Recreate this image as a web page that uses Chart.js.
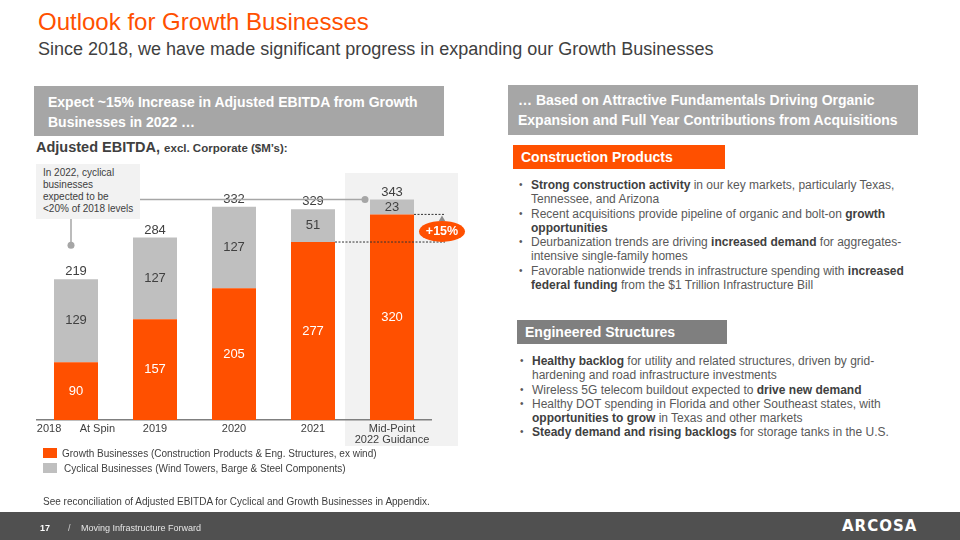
<!DOCTYPE html>
<html>
<head>
<meta charset="utf-8">
<script src="https://cdn.jsdelivr.net/npm/chart.js@4"></script>
<style>
  body { margin: 0; width: 960px; height: 540px; position: relative; overflow: hidden; background: #fff;
         font-family: "Liberation Sans", Arial, sans-serif; color: #404040; }
  .abs { position: absolute; white-space: nowrap; }
  .title { left: 38px; top: 10px; font-size: 24px; line-height: 24px; color: #FF5000; }
  .subtitle { left: 38px; top: 40px; font-size: 18px; line-height: 18px; color: #404040; }
  .greybox { background: #A6A6A6; color: #fff; font-weight: bold; font-size: 14px; line-height: 20px; box-sizing: border-box; }
  .tag { color: #fff; font-weight: bold; font-size: 14px; line-height: 24px; height: 24px; box-sizing: border-box; padding-left: 8px; }
  .bul { font-size: 12px; line-height: 14.3px; color: #595959; }
  .bul div { position: relative; padding-left: 12px; }
  .bul b { color: #404040; }
  .bul .dot { position: absolute; left: 0; top: 0; font-size: 10px; }
  .small { font-size: 10px; line-height: 12px; color: #404040; }
  #chartBox { position: absolute; left: 0; top: 150px; width: 480px; height: 300px; }
</style>
</head>
<body>
<div class="abs title">Outlook for Growth Businesses</div>
<div class="abs subtitle">Since 2018, we have made significant progress in expanding our Growth Businesses</div>

<div class="abs greybox" style="left:34px;top:86px;width:410px;height:50px;padding:6px 0 0 14px;">Expect ~15% Increase in Adjusted EBITDA from Growth<br>Businesses in 2022 …</div>
<div class="abs greybox" style="left:508px;top:85px;width:410px;height:50px;padding:5px 0 0 10px;">… Based on Attractive Fundamentals Driving Organic<br>Expansion and Full Year Contributions from Acquisitions</div>

<div class="abs" style="left:36px;top:140px;font-size:14.5px;line-height:14px;font-weight:bold;color:#404040;">Adjusted EBITDA, <span style="font-size:11.5px;">excl. Corporate ($M’s):</span></div>

<div id="chartBox"><canvas id="ebitdaChart" width="480" height="300"></canvas></div>

<div class="abs small" style="left:36px;top:164px;width:104px;height:55px;background:#F2F2F2;padding:3px 0 0 7px;box-sizing:border-box;line-height:12px;font-size:10px;">In 2022, cyclical<br>businesses<br>expected to be<br>&lt;20% of 2018 levels</div>

<div class="abs" style="left:43px;top:448px;width:14px;height:10px;background:#FF5000;"></div>
<div class="abs small" style="left:62px;top:448px;">Growth Businesses (Construction Products &amp; Eng. Structures, ex wind)</div>
<div class="abs" style="left:43px;top:463px;width:14px;height:10px;background:#BFBFBF;"></div>
<div class="abs small" style="left:64px;top:463px;">Cyclical Businesses (Wind Towers, Barge &amp; Steel Components)</div>

<div class="abs small" style="left:43px;top:496px;">See reconciliation of Adjusted EBITDA for Cyclical and Growth Businesses in Appendix.</div>

<div class="abs tag" style="left:513px;top:145px;width:212px;background:#FF5000;">Construction Products</div>
<div class="abs bul" style="left:519px;top:178px;">
  <div><span class="dot">•</span><b>Strong construction activity</b> in our key markets, particularly Texas,<br>Tennessee, and Arizona</div>
  <div><span class="dot">•</span>Recent acquisitions provide pipeline of organic and bolt-on <b>growth<br>opportunities</b></div>
  <div><span class="dot">•</span>Deurbanization trends are driving <b>increased demand</b> for aggregates-<br>intensive single-family homes</div>
  <div><span class="dot">•</span>Favorable nationwide trends in infrastructure spending with <b>increased<br>federal funding</b> from the $1 Trillion Infrastructure Bill</div>
</div>

<div class="abs tag" style="left:517px;top:320px;width:210px;background:#7F7F7F;">Engineered Structures</div>
<div class="abs bul" style="left:520px;top:354px;">
  <div><span class="dot">•</span><b>Healthy backlog</b> for utility and related structures, driven by grid-<br>hardening and road infrastructure investments</div>
  <div><span class="dot">•</span>Wireless 5G telecom buildout expected to <b>drive new demand</b></div>
  <div><span class="dot">•</span>Healthy DOT spending in Florida and other Southeast states, with<br><b>opportunities to grow</b> in Texas and other markets</div>
  <div><span class="dot">•</span><b>Steady demand and rising backlogs</b> for storage tanks in the U.S.</div>
</div>

<div class="abs" style="left:0;top:512px;width:960px;height:28px;background:#505050;"></div>
<div class="abs" style="left:40px;top:522px;font-size:9px;line-height:12px;font-weight:bold;color:#fff;">17</div>
<div class="abs" style="left:68px;top:522px;font-size:9px;line-height:12px;color:#d0d0d0;">/</div>
<div class="abs" style="left:81px;top:522px;font-size:9px;line-height:12px;color:#e6e6e6;">Moving Infrastructure Forward</div>
<div class="abs" style="left:842px;top:517px;font-family:'DejaVu Sans',sans-serif;font-size:15px;line-height:18px;font-weight:bold;letter-spacing:1px;color:#fff;">ARCOSA</div>

<script>
const ORANGE = "#FF5000";
const GREY = "#BFBFBF";
const TEXT = "#404040";

const categories = ["2018\u00a0\u00a0\u00a0\u00a0\u00a0\u00a0At Spin", "2019", "2020", "2021", ["Mid-Point", "2022 Guidance"]];
const growthValues = [90, 157, 205, 277, 320];
const cyclicalValues = [129, 127, 127, 51, 23];
const totalLabels = [219, 284, 332, 329, 343];
const growthLabel = "+15%";

const slideMarks = {
  id: "slideMarks",
  beforeDraw(chart) {
    const { ctx, chartArea } = chart;
    const cx = chart.scales.x.getPixelForValue(categories.length - 1);
    ctx.save();
    ctx.fillStyle = "#F2F2F2";
    ctx.fillRect(cx - 47, chartArea.top + 10, 113, chartArea.bottom - chartArea.top + 16);
    ctx.restore();
  },
  afterDatasetsDraw(chart) {
    const { ctx } = chart;
    const y = chart.scales.y;
    const growth = chart.getDatasetMeta(0).data;
    const cyc = chart.getDatasetMeta(1).data;

    ctx.save();
    ctx.font = "13px 'Liberation Sans', Arial, sans-serif";
    ctx.textAlign = "center";
    growth.forEach((bar, i) => {
      ctx.fillStyle = "#FFFFFF";
      ctx.textBaseline = "middle";
      ctx.fillText(growthValues[i], bar.x, (bar.y + bar.base) / 2);
    });
    cyc.forEach((bar, i) => {
      ctx.fillStyle = TEXT;
      ctx.textBaseline = "middle";
      ctx.fillText(cyclicalValues[i], bar.x, (bar.y + bar.base) / 2);
      ctx.textBaseline = "bottom";
      ctx.fillText(totalLabels[i], bar.x, bar.y - 1);
    });

    // callout lines from the note box
    const last = growth[growth.length - 1];
    const first = growth[0];
    const topLast = y.getPixelForValue(totalLabels[4]);
    ctx.strokeStyle = "#A6A6A6";
    ctx.fillStyle = "#A6A6A6";
    ctx.lineWidth = 1.5;
    ctx.beginPath();
    ctx.moveTo(140, topLast);
    ctx.lineTo(last.x - 27, topLast);
    ctx.moveTo(first.x - 5, y.getPixelForValue(313));
    ctx.lineTo(first.x - 5, y.getPixelForValue(272));
    ctx.stroke();
    ctx.beginPath();
    ctx.arc(last.x - 27, topLast, 3.5, 0, Math.PI * 2);
    ctx.fill();
    ctx.beginPath();
    ctx.arc(first.x - 5, y.getPixelForValue(272), 3.5, 0, Math.PI * 2);
    ctx.fill();

    // dotted growth comparison lines
    const prev = growth[3];
    ctx.strokeStyle = "#333333";
    ctx.lineWidth = 1;
    ctx.setLineDash([2, 1.5]);
    ctx.beginPath();
    ctx.moveTo(prev.x + prev.width / 2, prev.y);
    ctx.lineTo(last.x + 53, prev.y);
    ctx.moveTo(last.x + last.width / 2, last.y);
    ctx.lineTo(last.x + 53, last.y);
    ctx.stroke();
    ctx.setLineDash([]);

    // arrow + badge
    const ax = last.x + 50;
    ctx.fillStyle = "#8C8C8C";
    ctx.beginPath();
    ctx.moveTo(ax, last.y + 1);
    ctx.lineTo(ax - 3.5, last.y + 7);
    ctx.lineTo(ax + 3.5, last.y + 7);
    ctx.closePath();
    ctx.fill();
    ctx.fillStyle = ORANGE;
    ctx.beginPath();
    ctx.ellipse(ax, last.y + 17, 23, 10.5, 0, 0, Math.PI * 2);
    ctx.fill();
    ctx.fillStyle = "#FFFFFF";
    ctx.font = "bold 12.5px 'Liberation Sans', Arial, sans-serif";
    ctx.textBaseline = "middle";
    ctx.fillText(growthLabel, ax, last.y + 17.5);
    ctx.restore();
  }
};

new Chart(document.getElementById("ebitdaChart").getContext("2d"), {
  type: "bar",
  data: {
    labels: categories,
    datasets: [
      { label: "Growth Businesses", data: growthValues, backgroundColor: ORANGE },
      { label: "Cyclical Businesses", data: cyclicalValues, backgroundColor: GREY },
    ],
  },
  options: {
    responsive: false,
    animation: false,
    layout: { padding: { left: 36.5, right: 48.5, top: 13, bottom: 0 } },
    categoryPercentage: 1,
    barPercentage: 0.557,
    plugins: { legend: { display: false }, tooltip: { enabled: false } },
    scales: {
      x: {
        stacked: true,
        grid: { display: false, drawTicks: false },
        border: { display: true, color: "#7F7F7F", width: 1.5 },
        ticks: {
          color: TEXT,
          font: { family: "'Liberation Sans', Arial, sans-serif", size: 11, lineHeight: 1.0 },
          padding: 3,
          maxRotation: 0,
          autoSkip: false,
        },
        afterFit(scale) { scale.height = 30; },
      },
      y: { stacked: true, display: false, min: 0, max: 400 },
    },
  },
  plugins: [slideMarks],
});
</script>
</body>
</html>
